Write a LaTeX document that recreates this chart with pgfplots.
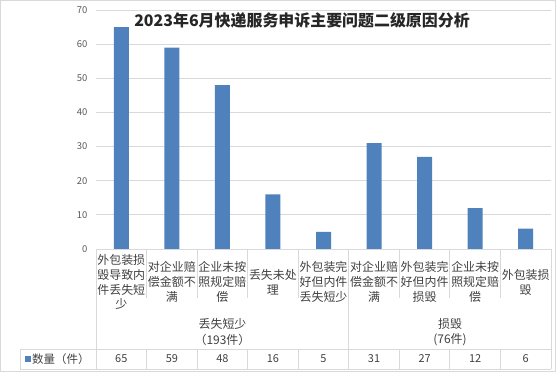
\documentclass[border=0pt]{standalone}
\usepackage{fontspec}
\setmainfont{Noto Sans CJK SC}
\usepackage{pgfplots}
\pgfplotsset{compat=1.18}
\definecolor{barblue}{HTML}{4F81BD}
\definecolor{gridgray}{HTML}{D9D9D9}
\definecolor{ticktext}{HTML}{595959}
\definecolor{bodytext}{HTML}{404040}
\begin{document}
\begin{tikzpicture}
\useasboundingbox (0,0) rectangle (556bp,372bp);
\draw[gridgray, line width=0.8bp] (0.5bp,0.5bp) rectangle (555.5bp,371.5bp);
\begin{axis}[
  at={(96bp,123bp)}, anchor=south west,
  scale only axis, width=455bp, height=239bp,
  xmin=-0.5, xmax=8.5, ymin=0, ymax=70,
  ytick={0,10,...,70},
  xtick={0,...,8},
  xticklabels={{外包装损\\毁导致内\\件丢失短\\少},{对企业赔\\偿金额不\\满},{企业未按\\照规定赔\\偿},{丢失未处\\理},{外包装完\\好但内件\\丢失短少},{对企业赔\\偿金额不\\满},{外包装完\\好但内件\\损毁},{企业未按\\照规定赔\\偿},{外包装损\\毁}},
  ymajorgrids, grid style={gridgray, line width=0.75bp},
  axis x line*=bottom, axis y line*=left,
  x axis line style={gridgray, line width=0.8bp},
  y axis line style={draw=none},
  major tick length=0pt,
  /pgf/number format/assume math mode=true,
  yticklabel style={font=\fontsize{9.5}{11}\selectfont, text=ticktext, xshift=-5bp},
  xticklabel style={font=\fontsize{12}{15}\selectfont, text=bodytext, align=center, anchor=center, yshift=-33bp},
  clip=false,
]
\addplot[ybar, fill=barblue, draw=none, bar width=15bp] coordinates {(0,65) (1,59) (2,48) (3,16) (4,5) (5,31) (6,27) (7,12) (8,6)};
\end{axis}
\begin{scope}[x=1bp,y=1bp]
\node[font=\fontsize{16}{18}\selectfont\bfseries, text=black!85] at (302,352) {2023年6月快递服务申诉主要问题二级原因分析};
% table lines
\foreach \k in {1,2,3,4,6,7,8} {
  \draw[gridgray, line width=0.8bp] ({96+50.5556*\k},123) -- ({96+50.5556*\k},74);
  \draw[gridgray, line width=0.8bp] ({96+50.5556*\k},23) -- ({96+50.5556*\k},3);
}
\foreach \k in {0,5,9} {
  \draw[gridgray, line width=0.8bp] ({96+50.5556*\k},123) -- ({96+50.5556*\k},3);
}
\draw[gridgray, line width=0.8bp] (20,23) -- (551,23);
\draw[gridgray, line width=0.8bp] (20,3) -- (551,3);
\draw[gridgray, line width=0.8bp] (20,23) -- (20,3);
% group labels
\node[font=\fontsize{12}{15}\selectfont, text=bodytext] at (222.5,48) {丢失短少};
\node[font=\fontsize{12}{15}\selectfont, text=bodytext] at (222.5,32) {（193件）};
\node[font=\fontsize{12}{15}\selectfont, text=bodytext] at (450,48) {损毁};
\node[font=\fontsize{12}{15}\selectfont, text=bodytext] at (450,32) {(76件)};
% legend key and values
\fill[barblue] (25,10) rectangle (31,16);
\node[font=\fontsize{11.5}{13}\selectfont, text=bodytext, anchor=west, inner sep=0pt] at (32,13) {数量（件）};
\foreach \v [count=\i from 0] in {65,59,48,16,5,31,27,12,6} {
  \node[font=\fontsize{11}{13}\selectfont, text=bodytext] at ({96+50.5556*(\i+0.5)},13) {\v};
}
\end{scope}
\end{tikzpicture}
\end{document}
